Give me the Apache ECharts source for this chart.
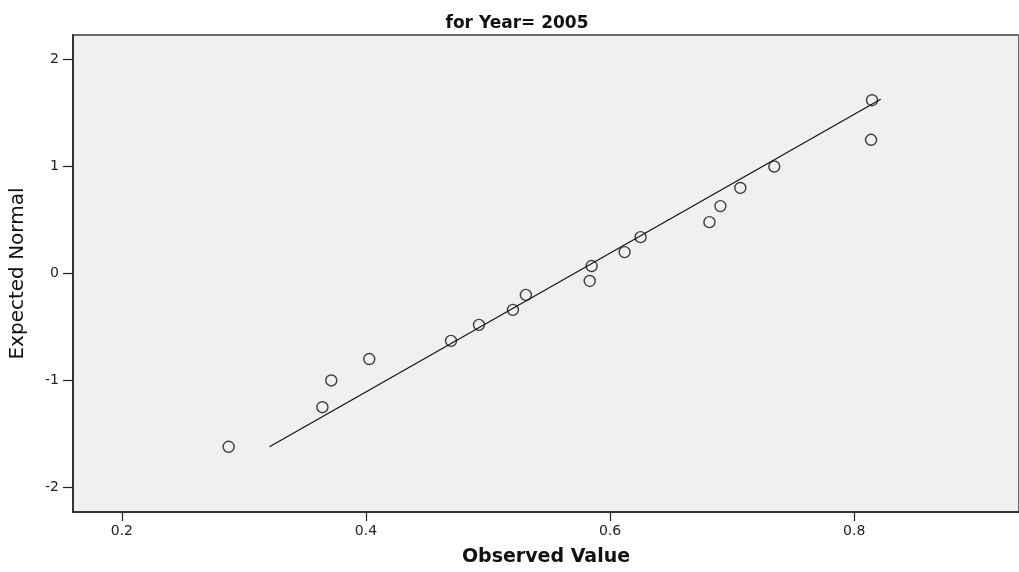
<!DOCTYPE html>
<html>
<head>
<meta charset="utf-8">
<script src="https://cdn.jsdelivr.net/npm/echarts@6/dist/echarts.min.js"></script>
<style>
  html, body { margin: 0; padding: 0; background: #ffffff; }
  #chart { width: 1019px; height: 572px; }
</style>
</head>
<body>
<div id="chart"></div>
<script>
// Normal Q-Q plot, Year 2005
const observed = [0.2875, 0.3643, 0.3716, 0.4027, 0.4697, 0.4926, 0.5204, 0.5310, 0.5833,
                  0.5849, 0.6119, 0.6250, 0.6814, 0.6904, 0.7067, 0.7345, 0.8138, 0.8146];
const expected = [-1.62, -1.25, -1.00, -0.80, -0.63, -0.48, -0.34, -0.20, -0.07,
                  0.07, 0.20, 0.34, 0.48, 0.63, 0.80, 1.00, 1.25, 1.62];
// reference line end points [observed, expected]
const lineStart = [0.3210, -1.62];
const lineEnd = [0.8217, 1.63];
const xTicks = [0.2, 0.4, 0.6, 0.8];
const yTicks = [-2, -1, 0, 1, 2];

const points = observed.map((v, i) => [v, expected[i]]);
const FONT = 'DejaVu Sans, Arial';

const chart = echarts.init(document.getElementById('chart'));
chart.setOption({
  animation: false,
  backgroundColor: '#ffffff',
  title: {
    text: 'for Year= 2005',
    left: 512, top: 10, textAlign: 'center',
    textStyle: { fontFamily: FONT, fontSize: 17, fontWeight: 'bold', color: '#111' }
  },
  grid: {
    left: 72, top: 35, right: -2, bottom: 60,
    show: true, backgroundColor: '#f0f0f0', borderColor: '#6a6a6a', borderWidth: 2
  },
  xAxis: {
    type: 'value', min: 0.160, max: 0.935,
    name: 'Observed Value', nameLocation: 'middle', nameGap: 36,
    nameTextStyle: { fontFamily: FONT, fontSize: 19, fontWeight: 'bold', color: '#111' },
    axisLine: { show: true, onZero: false, lineStyle: { color: '#222', width: 1.5 } },
    axisTick: { show: true, length: 9, customValues: xTicks, lineStyle: { color: '#222', width: 1.2 } },
    axisLabel: {
      customValues: xTicks, margin: 12,
      formatter: v => v.toFixed(1),
      fontFamily: FONT, fontSize: 14, color: '#222'
    },
    splitLine: { show: false }
  },
  yAxis: {
    type: 'value', min: -2.23, max: 2.23,
    name: 'Expected Normal', nameLocation: 'middle', nameGap: 45, nameRotate: 90,
    nameTextStyle: { fontFamily: FONT, fontSize: 20, color: '#111' },
    axisLine: { show: true, onZero: false, lineStyle: { color: '#222', width: 1.5 } },
    axisTick: { show: true, length: 10, customValues: yTicks, lineStyle: { color: '#222', width: 1.2 } },
    axisLabel: {
      customValues: yTicks, margin: 14,
      fontFamily: FONT, fontSize: 14, color: '#222'
    },
    splitLine: { show: false }
  },
  series: [
    {
      type: 'line',
      data: [lineStart, lineEnd],
      showSymbol: false,
      lineStyle: { color: '#111', width: 1.2 },
      z: 2
    },
    {
      type: 'scatter',
      data: points,
      symbol: 'circle',
      symbolSize: 11,
      itemStyle: { color: 'rgba(0,0,0,0)', borderColor: '#111', borderWidth: 1.4 },
      z: 3
    }
  ]
});
</script>
</body>
</html>
